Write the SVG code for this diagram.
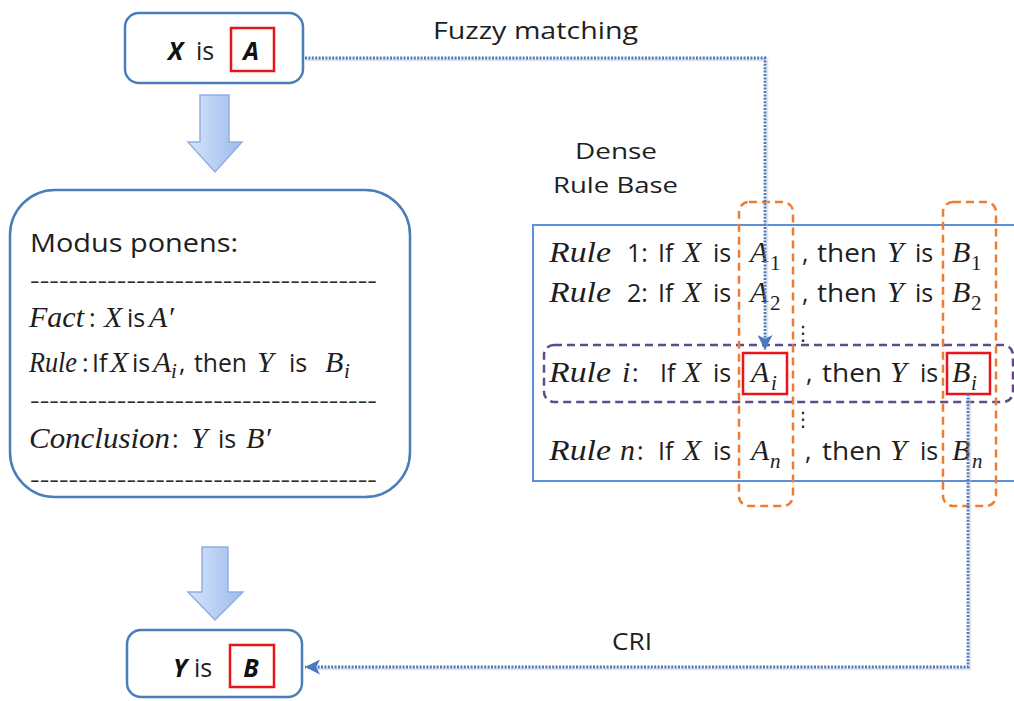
<svg xmlns="http://www.w3.org/2000/svg" width="1014" height="701" viewBox="0 0 1014 701">
  <defs>
    <style>
      .s { font-family: "Open Sans", "Liberation Sans", sans-serif; fill: #1e1e1e; }
      .m { font-family: "Liberation Serif", serif; font-style: italic; fill: #1e1e1e; }
      .d { font-family: "Liberation Serif", serif; fill: #1e1e1e; }
      .bi { font-family: "Open Sans", "Liberation Sans", sans-serif; font-weight: bold; font-style: italic; fill: #111; }
      .node { fill: #fff; stroke: #4a7ebb; stroke-width: 2.5; }
      .red { fill: none; stroke: #e8161b; stroke-width: 2.5; }
      .col { fill: none; stroke: #ed7d31; stroke-width: 2.5; stroke-dasharray: 8 5; }
      .row { fill: none; stroke: #5f4b8b; stroke-width: 2.5; stroke-dasharray: 8 5; }
      .dot { fill: none; stroke: #4a78c2; stroke-width: 2.8; stroke-dasharray: 2 1.4; }
      .shadow { fill: none; stroke: #c8c8c8; stroke-width: 2.5; opacity: 0.45; }
      .big { fill: url(#blk); stroke: #8fb0e0; stroke-width: 1.5; }
      .hy { font-family: "Open Sans", "Liberation Sans", sans-serif; font-size: 22px; fill: #2a2a2a; }
    </style>
    <linearGradient id="blk" x1="0" y1="0" x2="1" y2="0">
      <stop offset="0" stop-color="#d6e4fa"/>
      <stop offset="1" stop-color="#9dbbed"/>
    </linearGradient>
    <marker id="head" viewBox="0 0 12 12" refX="12" refY="6" markerWidth="15" markerHeight="15" markerUnits="userSpaceOnUse" orient="auto">
      <path d="M0,0 L12,6 L0,12 L3,6 Z" fill="#4a78c2"/>
    </marker>
  </defs>

  <rect width="1014" height="701" fill="#fff"/>

  <!-- premise: X is A -->
  <g id="premise">
    <rect class="node" x="125" y="13" width="178" height="70" rx="14"/>
    <text class="bi" x="168" y="60" font-size="25">X</text>
    <text class="s" x="196" y="60" font-size="25">is</text>
    <rect class="red" x="231" y="28" width="43" height="43"/>
    <text class="bi" x="251" y="60" font-size="25" text-anchor="middle">A</text>
  </g>

  <!-- block arrows -->
  <g id="step1">
    <path class="big" d="M200,95 H229 V142 H242 L215,172 L188,142 H200 Z"/>
  </g>
  <g id="step2">
    <path class="big" d="M202,547 H228 V592 H243 L215,620 L188,592 H202 Z"/>
  </g>

  <!-- modus ponens scheme -->
  <g id="modus-ponens">
    <rect class="node" x="10" y="190" width="400" height="307" rx="45"/>
    <text class="s" x="30" y="252" font-size="25" textLength="208" lengthAdjust="spacingAndGlyphs">Modus ponens:</text>
    <text class="hy" x="30" y="288" textLength="347" lengthAdjust="spacingAndGlyphs">------------------------------------</text>

    <text class="m" x="29" y="327" font-size="30" textLength="55" lengthAdjust="spacingAndGlyphs">Fact</text>
    <text class="s" x="89" y="327" font-size="25">:</text>
    <text class="m" x="104" y="327" font-size="30">X</text>
    <text class="s" x="127" y="327" font-size="25">is</text>
    <text class="m" x="149" y="327" font-size="30">A′</text>

    <text class="m" x="29" y="372" font-size="30" textLength="48" lengthAdjust="spacingAndGlyphs">Rule</text>
    <text class="s" x="82" y="372" font-size="25">:</text>
    <text class="s" x="92" y="372" font-size="25">If</text>
    <text class="m" x="110" y="372" font-size="30">X</text>
    <text class="s" x="132" y="372" font-size="25">is</text>
    <text class="m" x="153" y="372" font-size="30">A</text>
    <text class="m" x="171" y="378" font-size="21">i</text>
    <text class="s" x="179" y="372" font-size="25">,</text>
    <text class="s" x="194" y="372" font-size="25" textLength="53" lengthAdjust="spacingAndGlyphs">then</text>
    <text class="m" x="257" y="372" font-size="30">Y</text>
    <text class="s" x="289" y="372" font-size="25">is</text>
    <text class="m" x="325" y="372" font-size="30">B</text>
    <text class="m" x="344" y="378" font-size="21">i</text>

    <text class="hy" x="30" y="408" textLength="347" lengthAdjust="spacingAndGlyphs">------------------------------------</text>

    <text class="m" x="29" y="448" font-size="30" textLength="141" lengthAdjust="spacingAndGlyphs">Conclusion</text>
    <text class="s" x="172" y="448" font-size="25">:</text>
    <text class="m" x="191" y="448" font-size="30">Y</text>
    <text class="s" x="218" y="448" font-size="25">is</text>
    <text class="m" x="246" y="448" font-size="30">B′</text>

    <text class="hy" x="30" y="487" textLength="347" lengthAdjust="spacingAndGlyphs">------------------------------------</text>
  </g>

  <!-- conclusion: Y is B -->
  <g id="conclusion">
    <rect class="node" x="127" y="630" width="175" height="67" rx="14"/>
    <text class="bi" x="173" y="677" font-size="25">Y</text>
    <text class="s" x="194" y="677" font-size="25">is</text>
    <rect class="red" x="230" y="645" width="44" height="42"/>
    <text class="bi" x="251" y="677" font-size="25" text-anchor="middle">B</text>
  </g>

  <!-- rule base -->
  <g id="rule-base">
    <text class="s" x="575" y="159" font-size="22" textLength="82" lengthAdjust="spacingAndGlyphs">Dense</text>
    <text class="s" x="553" y="193" font-size="22" textLength="125" lengthAdjust="spacingAndGlyphs">Rule Base</text>
    <rect x="533" y="225" width="495" height="256" fill="#fff" stroke="#5b8fd8" stroke-width="2"/>

    <!-- rule 1 -->
    <text class="m" x="549" y="262" font-size="30" textLength="62" lengthAdjust="spacingAndGlyphs">Rule</text>
    <text class="s" x="627" y="262" font-size="25">1:</text>
    <text class="s" x="658" y="262" font-size="25">If</text>
    <text class="m" x="683" y="262" font-size="30">X</text>
    <text class="s" x="713" y="262" font-size="25">is</text>
    <text class="m" x="750" y="262" font-size="30">A</text>
    <text class="d" x="770" y="270" font-size="21">1</text>
    <text class="s" x="802" y="262" font-size="25">,</text>
    <text class="s" x="817" y="262" font-size="25" textLength="60" lengthAdjust="spacingAndGlyphs">then</text>
    <text class="m" x="887" y="262" font-size="30">Y</text>
    <text class="s" x="915" y="262" font-size="25">is</text>
    <text class="m" x="952" y="262" font-size="30">B</text>
    <text class="d" x="971" y="270" font-size="21">1</text>

    <!-- rule 2 -->
    <text class="m" x="549" y="302" font-size="30" textLength="62" lengthAdjust="spacingAndGlyphs">Rule</text>
    <text class="s" x="627" y="302" font-size="25">2:</text>
    <text class="s" x="658" y="302" font-size="25">If</text>
    <text class="m" x="683" y="302" font-size="30">X</text>
    <text class="s" x="713" y="302" font-size="25">is</text>
    <text class="m" x="750" y="302" font-size="30">A</text>
    <text class="d" x="770" y="310" font-size="21">2</text>
    <text class="s" x="802" y="302" font-size="25">,</text>
    <text class="s" x="817" y="302" font-size="25" textLength="60" lengthAdjust="spacingAndGlyphs">then</text>
    <text class="m" x="887" y="302" font-size="30">Y</text>
    <text class="s" x="915" y="302" font-size="25">is</text>
    <text class="m" x="952" y="302" font-size="30">B</text>
    <text class="d" x="971" y="310" font-size="21">2</text>

    <text x="803" y="340" font-family="DejaVu Sans, sans-serif" font-size="20" fill="#1e1e1e" text-anchor="middle">⋮</text>

    <!-- rule i -->
    <text class="m" x="549" y="382" font-size="30" textLength="62" lengthAdjust="spacingAndGlyphs">Rule</text>
    <text class="m" x="622" y="382" font-size="30">i</text>
    <text class="s" x="632" y="382" font-size="25">:</text>
    <text class="s" x="660" y="382" font-size="25">If</text>
    <text class="m" x="683" y="382" font-size="30">X</text>
    <text class="s" x="713" y="382" font-size="25">is</text>
    <text class="m" x="751" y="382" font-size="30">A</text>
    <text class="m" x="771" y="390" font-size="21">i</text>
    <text class="s" x="806" y="382" font-size="25">,</text>
    <text class="s" x="822" y="382" font-size="25" textLength="60" lengthAdjust="spacingAndGlyphs">then</text>
    <text class="m" x="890" y="382" font-size="30">Y</text>
    <text class="s" x="920" y="382" font-size="25">is</text>
    <text class="m" x="952" y="382" font-size="30">B</text>
    <text class="m" x="971" y="390" font-size="21">i</text>

    <text x="803" y="426" font-family="DejaVu Sans, sans-serif" font-size="20" fill="#1e1e1e" text-anchor="middle">⋮</text>

    <!-- rule n -->
    <text class="m" x="549" y="460" font-size="30" textLength="62" lengthAdjust="spacingAndGlyphs">Rule</text>
    <text class="m" x="620" y="460" font-size="30">n</text>
    <text class="s" x="637" y="460" font-size="25">:</text>
    <text class="s" x="658" y="460" font-size="25">If</text>
    <text class="m" x="683" y="460" font-size="30">X</text>
    <text class="s" x="713" y="460" font-size="25">is</text>
    <text class="m" x="751" y="460" font-size="30">A</text>
    <text class="m" x="770" y="468" font-size="21">n</text>
    <text class="s" x="805" y="460" font-size="25">,</text>
    <text class="s" x="822" y="460" font-size="25" textLength="60" lengthAdjust="spacingAndGlyphs">then</text>
    <text class="m" x="890" y="460" font-size="30">Y</text>
    <text class="s" x="920" y="460" font-size="25">is</text>
    <text class="m" x="952" y="460" font-size="30">B</text>
    <text class="m" x="972" y="468" font-size="21">n</text>

    <!-- highlighted antecedent / consequent -->
    <rect class="red" x="743" y="353" width="44" height="41"/>
    <rect class="red" x="947" y="353" width="43" height="41"/>

    <!-- selected rule and term columns -->
    <rect class="row" x="544" y="345" width="469" height="57" rx="10"/>
    <rect class="col" x="739" y="202" width="54" height="304" rx="10"/>
    <rect class="col" x="943" y="202" width="53" height="304" rx="10"/>
  </g>

  <!-- connectors -->
  <g id="connectors">
    <path class="shadow" d="M306,60 H767 V345"/>
    <path class="dot" d="M305,58 H765 V350" marker-end="url(#head)"/>
    <text class="s" x="433" y="39" font-size="23" textLength="205" lengthAdjust="spacingAndGlyphs">Fuzzy matching</text>

    <path class="shadow" d="M970,396 V669 H312"/>
    <path class="dot" d="M968,394 V667 H305" marker-end="url(#head)"/>
    <text class="s" x="612" y="650" font-size="23" textLength="40" lengthAdjust="spacingAndGlyphs">CRI</text>
  </g>
</svg>
